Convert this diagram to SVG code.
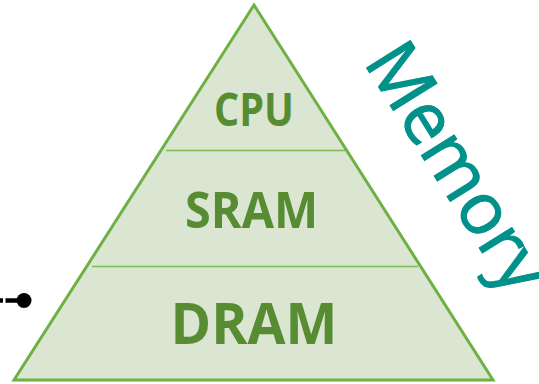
<svg xmlns="http://www.w3.org/2000/svg" width="539" height="384" viewBox="0 0 539 384">
<style>
.tier{font-family:"Open Sans","Liberation Sans",sans-serif;font-weight:bold;fill:#578C33;text-anchor:middle}
.div{stroke:#7DBB58;stroke-width:1.5;fill:none}
</style>
<rect width="539" height="384" fill="#ffffff"/>
<g id="pyramid">
<polygon points="254,5 14,380 493,380" fill="#DAE6D1" stroke="#6DB144" stroke-width="3" stroke-linejoin="miter"/>
<line class="div" x1="166" y1="150.5" x2="345" y2="150.5"/>
<line class="div" x1="92" y1="266.5" x2="418" y2="266.5"/>
</g>
<g id="cpu"><text class="tier" x="254" y="126" font-size="46" textLength="80" lengthAdjust="spacingAndGlyphs">CPU</text></g>
<g id="sram"><text class="tier" x="251.5" y="228" font-size="50" textLength="133" lengthAdjust="spacingAndGlyphs">SRAM</text></g>
<g id="dram"><text class="tier" x="254" y="344" font-size="57" textLength="167" lengthAdjust="spacingAndGlyphs">DRAM</text></g>
<g id="memory"><text transform="translate(363,62) rotate(58)" font-family="'Open Sans','Liberation Sans',sans-serif" font-size="72" fill="#00918A" stroke="#00918A" stroke-width="1.2" textLength="278" lengthAdjust="spacingAndGlyphs">Memory</text></g>
<g id="connectors">
<line x1="0" y1="300.5" x2="18" y2="300.5" stroke="#000" stroke-width="4.5" stroke-dasharray="3,2.5,14"/>
<circle cx="24" cy="300.5" r="7.5" fill="#000"/>
</g>
</svg>
